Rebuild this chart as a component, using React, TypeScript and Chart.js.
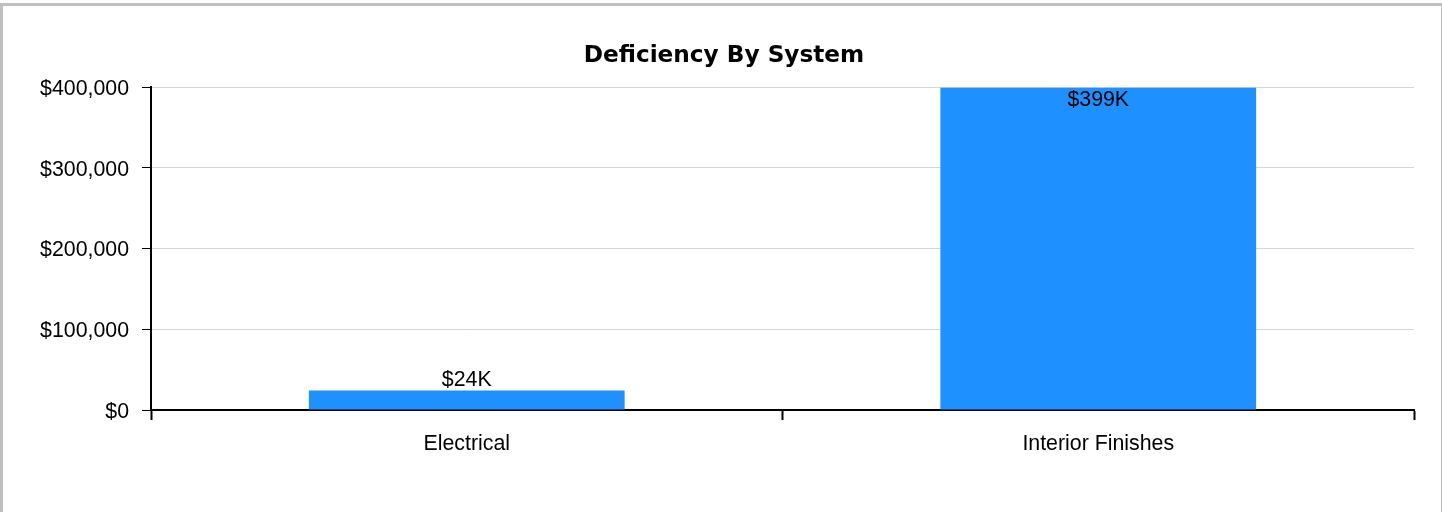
import React, { useEffect, useRef } from "react";
import { Chart, registerables } from "chart.js";

Chart.register(...registerables);

// Deficiency cost per building system (USD)
const systems = ["Electrical", "Interior Finishes"];
const deficiencyCost = [24000, 399000];
const costTicks = [0, 100000, 200000, 300000, 400000];

const LABEL_FONT = '"Liberation Sans", Arial, Helvetica, sans-serif';
const LABEL_SIZE = 21.33;

const formatK = (v: number) => "$" + Math.round(v / 1000) + "K";
const formatDollars = (v: number) => "$" + Number(v).toLocaleString("en-US");

// Writes each bar's value above it, or just inside its top when there is no room above.
const barValueLabels = {
  id: "barValueLabels",
  afterDatasetsDraw(chart: any) {
    const { ctx, chartArea } = chart;
    const meta = chart.getDatasetMeta(0);
    const capHeight = LABEL_SIZE * 0.716;
    ctx.save();
    ctx.font = `${LABEL_SIZE}px ${LABEL_FONT}`;
    ctx.fillStyle = "#000";
    ctx.textAlign = "center";
    ctx.textBaseline = "alphabetic";
    meta.data.forEach((bar: any, i: number) => {
      const text = formatK(deficiencyCost[i]);
      const aboveBaseline = bar.y - 4.5;
      const y =
        aboveBaseline - capHeight - 4 >= chartArea.top
          ? aboveBaseline
          : bar.y + 3 + capHeight;
      ctx.fillText(text, bar.x, y);
    });
    ctx.restore();
  },
};

export default function App() {
  const canvasRef = useRef<HTMLCanvasElement | null>(null);

  useEffect(() => {
    document.body.style.margin = "0";
    document.body.style.overflow = "hidden";
    const canvas = canvasRef.current;
    if (!canvas) return;

    const chart = new Chart(canvas, {
      type: "bar",
      data: {
        labels: systems,
        datasets: [
          {
            label: "Deficiency",
            data: deficiencyCost,
            backgroundColor: "#1E90FF",
            borderWidth: 0,
            barPercentage: 0.5,
            categoryPercentage: 1.0,
          },
        ],
      },
      options: {
        responsive: false,
        animation: false,
        devicePixelRatio: 1,
        layout: { padding: { left: 6, right: 0, top: 0, bottom: 0 } },
        plugins: {
          legend: { display: false },
          tooltip: { enabled: false },
          title: {
            display: true,
            text: "Deficiency By System",
            color: "#000",
            font: { family: '"DejaVu Sans", Verdana, sans-serif', weight: "bold", size: 23.2 },
            padding: { top: 41.9, bottom: 17.26 },
          },
        },
        scales: {
          x: {
            offset: true,
            grid: {
              display: true,
              offset: true,
              drawOnChartArea: false,
              drawTicks: true,
              tickLength: 10,
              tickColor: "#000",
              tickWidth: 2,
            },
            border: { display: true, color: "#000", width: 2 },
            ticks: {
              color: "#000",
              padding: 11,
              maxRotation: 0,
              font: { family: LABEL_FONT, size: LABEL_SIZE },
            },
            afterFit: (scale: any) => {
              scale.height = 102;
            },
          },
          y: {
            min: 0,
            max: 400000,
            grid: {
              color: "#d6d6d6",
              lineWidth: 1,
              drawTicks: true,
              tickLength: 9,
              tickColor: "#000",
              tickWidth: 1,
            },
            border: { display: true, color: "#000", width: 2 },
            ticks: {
              color: "#000",
              padding: 13,
              labelOffset: 2,
              font: { family: LABEL_FONT, size: LABEL_SIZE },
              callback: (v: any) => formatDollars(v),
            },
            afterBuildTicks: (scale: any) => {
              scale.ticks = costTicks.map((value) => ({ value }));
            },
            afterFit: (scale: any) => {
              scale.width = 145;
            },
          },
          // empty right-hand margin beside the plot
          rightGutter: {
            type: "linear",
            position: "right",
            display: true,
            grid: { display: false, drawTicks: false },
            border: { display: false },
            ticks: { display: false },
            afterFit: (scale: any) => {
              scale.width = 28;
            },
          },
        },
      },
      plugins: [barValueLabels],
    });

    return () => chart.destroy();
  }, []);

  return (
    <div style={{ position: "relative", width: 1442, height: 512, overflow: "hidden" }}>
      <div
        style={{
          position: "absolute",
          left: 0,
          top: 3,
          width: 1444,
          height: 600,
          boxSizing: "border-box",
          border: "3px solid #c0c0c0",
        }}
      />
      <canvas
        ref={canvasRef}
        width={1442}
        height={512}
        style={{ position: "absolute", left: 0, top: 0, width: 1442, height: 512 }}
      />
    </div>
  );
}
